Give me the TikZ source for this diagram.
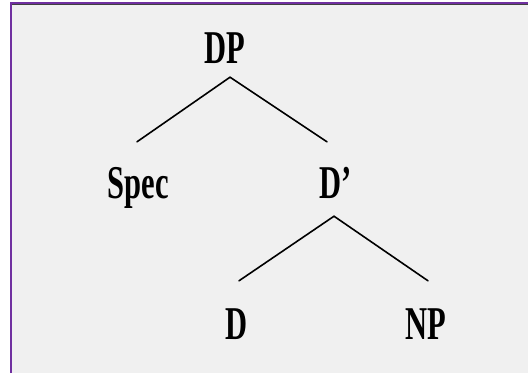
\documentclass[tikz,border=0pt]{standalone}
\usepackage{fontspec}
\newfontfamily\treefont[FakeStretch=0.65]{Liberation Serif}
\definecolor{framepurple}{RGB}{112,48,160}
\definecolor{framedark}{RGB}{64,64,64}
\definecolor{panelgray}{RGB}{240,240,240}

\begin{document}
\begin{tikzpicture}[x=1pt,y=-1pt,
    cat/.style={anchor=base, inner sep=0pt, text height=31pt, text depth=0pt,
      font=\treefont\bfseries\fontsize{47}{50}\selectfont},
    branch/.style={line width=1.6pt, line cap=round}]
  \useasboundingbox (0,0) rectangle (528,373);
  % panel and its frame
  \fill[white] (0,0) rectangle (528,373);
  \fill[panelgray] (11,3) rectangle (528,373);
  \draw[framedark, line width=1.5pt] (12,4.5) -- (528,4.5);
  \draw[framepurple, line width=2.5pt] (10.75,373) -- (10.75,2.75) -- (528,2.75);

  % categories
  \node[cat] (dp) at (225,63) {DP};
  \node[cat] (spec) at (138.5,198) {Spec};
  \node[cat] (dbar) at (335.5,198) {D’};
  \node[cat] (d) at (236.5,339) {D};
  \node[cat] (np) at (425.5,339) {NP};

  % branch points
  \coordinate (dp-fork) at ([xshift=5pt,yshift=-14pt]dp.south);
  \coordinate (dbar-fork) at ([xshift=-1.5pt,yshift=-18pt]dbar.south);

  % branches
  \draw[branch] (dp-fork) -- ([xshift=-1.5pt,yshift=25pt]spec.north);
  \draw[branch] (dp-fork) -- ([xshift=-8.5pt,yshift=25pt]dbar.north);
  \draw[branch] (dbar-fork) -- ([xshift=2.5pt,yshift=27pt]d.north);
  \draw[branch] (dbar-fork) -- ([xshift=2.5pt,yshift=27pt]np.north);
\end{tikzpicture}
\end{document}
